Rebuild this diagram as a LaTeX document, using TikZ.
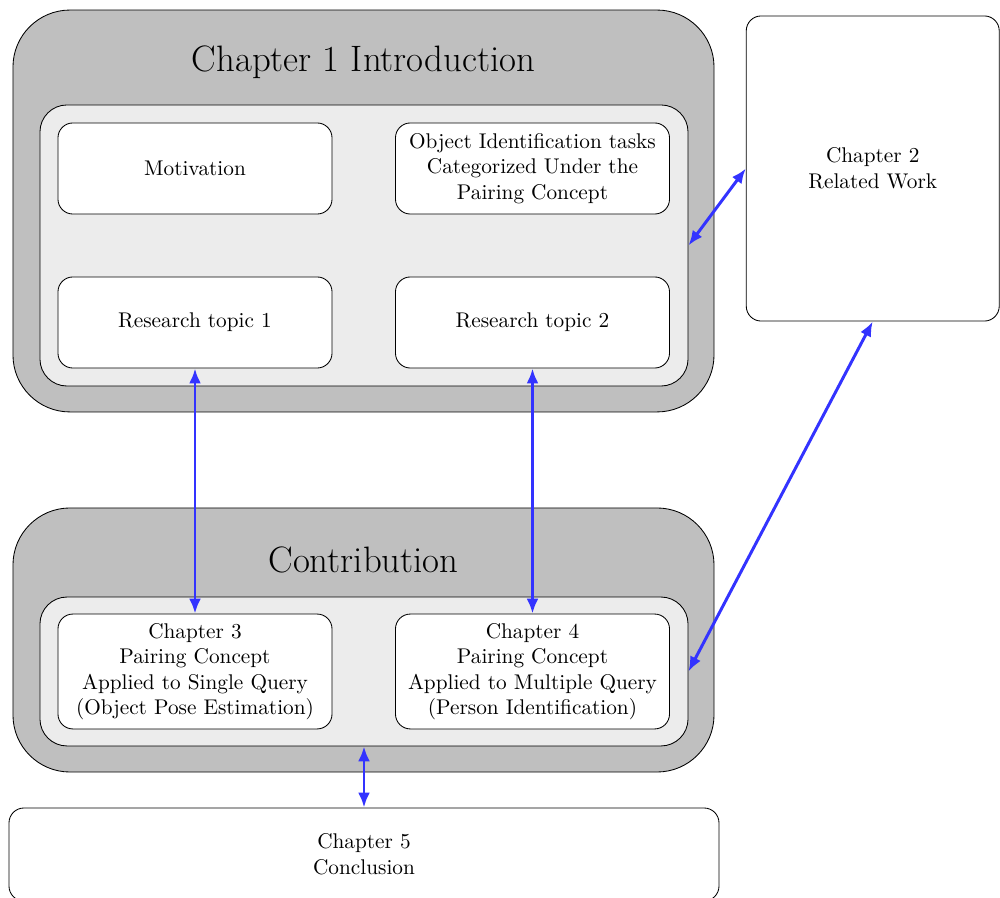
\documentclass[tikz,border=0pt]{standalone}
\usetikzlibrary{arrows.meta}
\tikzset{
  outerbox/.style={draw=black, fill=gray!50, rounded corners=26.8pt, inner sep=0pt,
    minimum width=329.5pt},
  innerbox/.style={draw=black, fill=gray!15, rounded corners=12.7pt, inner sep=0pt,
    minimum width=304.6pt},
  chbox/.style={draw=black, fill=white, rounded corners=7pt, inner sep=0pt,
    align=center, minimum width=128.8pt},
  bigtitle/.style={font=\LARGE, inner sep=0pt},
  link/.style={draw=blue!80, line width=1.4pt, {Latex[length=7pt,width=5.6pt]}-{Latex[length=7pt,width=5.6pt]}}
}
\begin{document}
\begin{tikzpicture}[x=0.47pt, y=-0.47pt]
\useasboundingbox (0,0) rectangle (1000,898);

% Chapter 1 block
\node[outerbox, minimum height=188.9pt] (outer1) at (363.5,211) {};
\node[bigtitle] (title1) at (363.5,62) {Chapter 1 Introduction};
\node[innerbox, minimum height=132.1pt] (inner1) at (364,245.5) {};
\node[chbox, minimum height=42.8pt] (motiv) at (195,168.5) {Motivation};
\node[chbox, minimum height=42.8pt] (objid) at (532.5,168.5) {Object Identification tasks\\Categorized Under the\\Pairing Concept};
\node[chbox, minimum height=42.8pt] (rt1) at (195,322.5) {Research topic 1};
\node[chbox, minimum height=42.8pt] (rt2) at (532.5,322.5) {Research topic 2};

% Chapter 2
\node[chbox, minimum width=118.9pt, minimum height=143.4pt] (ch2) at (872.75,168.5) {Chapter 2\\Related Work};

% Contribution block
\node[outerbox, minimum height=124.1pt] (outer2) at (363.5,640) {};
\node[bigtitle] (title2) at (363.5,560) {Contribution};
\node[innerbox, minimum height=70pt] (inner2) at (364,671.5) {};
\node[chbox, minimum height=54pt] (ch3) at (195,671.5) {Chapter 3\\Pairing Concept\\Applied to Single Query\\(Object Pose Estimation)};
\node[chbox, minimum height=54pt] (ch4) at (532.5,671.5) {Chapter 4\\Pairing Concept\\Applied to Multiple Query\\(Person Identification)};

% Chapter 5
\node[chbox, minimum width=333.7pt, minimum height=43.7pt] (ch5) at (364,854.5) {Chapter 5\\Conclusion};

% Connections
\draw[link] (rt1.south) -- (ch3.north);
\draw[link] (rt2.south) -- (ch4.north);
\draw[link] (inner1.east) -- (ch2.west);
\draw[link] (ch2.south) -- (inner2.east);
\draw[link] (inner2.south) -- (ch5.north);
\end{tikzpicture}
\end{document}
